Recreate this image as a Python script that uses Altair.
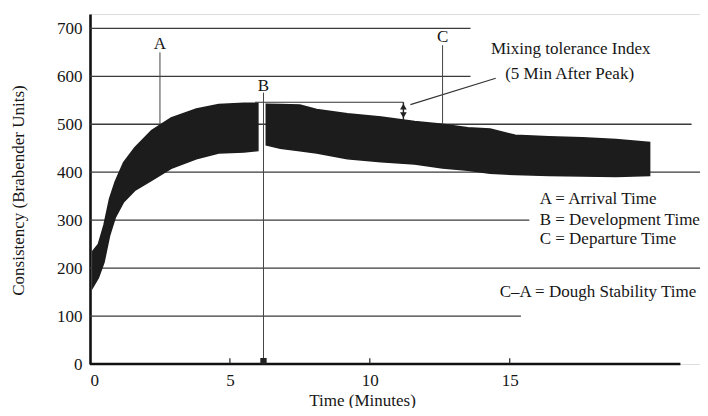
import altair as alt
import pandas as pd

FONT = "Liberation Serif"
INK = "#1c1c1c"
TXT = "#161616"

# ---- curve band (farinograph trace) ----
time_left = [0.1, 0.3, 0.5, 0.7, 0.9, 1.2, 1.6, 2.2, 2.9, 3.8, 4.6, 5.5, 6.0]
upper_left = [235, 250, 290, 345, 380, 420, 451, 487, 513, 532, 541, 544, 544]
lower_left = [160, 180, 212, 268, 305, 338, 362, 383, 408, 428, 440, 442, 445]

time_right = [6.3, 6.8, 7.5, 8.1, 9.2, 10.4, 11.6, 12.6, 13.5, 14.3, 15.2, 16.4, 17.6, 18.8, 20.0]
upper_right = [542, 541, 540, 531, 522, 515, 506, 500, 493, 490, 477, 474, 472, 468, 462]
lower_right = [457, 450, 445, 440, 428, 422, 417, 409, 404, 398, 395, 393, 392, 391, 393]

# ---- chart-paper grid lines (BU level, minute where the printed line stops) ----
grid_bu = [100, 200, 300, 400, 500, 600, 700]
grid_end_min = [15.4, 21.8, 15.7, 21.8, 21.5, 13.6, 13.6]
baseline_end_min = 21.1
minor_tick_min = [5, 10, 15]

# ---- markers ----
marker_labels = ["A", "B", "C"]
marker_time = [2.5, 6.2, 12.6]
marker_label_bu = [668, 580, 683]
marker_line_top = [650, 566, 665]
marker_line_bottom = [500, 0, 500]

peak_bu = 546
peak_start_min = 5.9
mti_time = 11.2
mti_band_top = 509

leader_time = [11.45, 14.5]
leader_bu = [541, 596]

mti_text = ["Mixing tolerance Index", "(5 Min After Peak)"]
mti_text_time = [17.18, 17.14]
mti_text_bu = [656, 604]

def_text = ["A = Arrival Time", "B = Development Time", "C = Departure Time",
            "C\u2013A = Dough Stability Time"]
def_time = [16.07, 16.07, 16.07, 14.64]
def_bu = [345, 301, 260, 150]

y_ticks = [0, 100, 200, 300, 400, 500, 600, 700]
x_ticks = [0, 5, 10, 15]

# ---- tables ----
band = pd.concat([
    pd.DataFrame({"t": time_left, "upper": upper_left, "lower": lower_left, "seg": "rise"}),
    pd.DataFrame({"t": time_right, "upper": upper_right, "lower": lower_right, "seg": "fall"}),
])
grid_df = pd.DataFrame({"bu": grid_bu, "end": grid_end_min, "start": 0.0})
base_df = pd.DataFrame({"bu": [0], "start": [0.0], "end": [baseline_end_min]})
tick_df = pd.DataFrame({"t": minor_tick_min, "b0": 0, "b1": 12})
marker_df = pd.DataFrame({"label": marker_labels, "t": marker_time, "lab": marker_label_bu,
                          "top": marker_line_top, "bot": marker_line_bottom})
peak_df = pd.DataFrame({"t0": [peak_start_min], "t1": [mti_time], "bu": [peak_bu]})
mti_df = pd.DataFrame({"t": [mti_time], "top": [peak_bu], "bot": [mti_band_top]})
mti_up_df = pd.DataFrame({"t": [mti_time], "bu": [peak_bu - 9]})
mti_dn_df = pd.DataFrame({"t": [mti_time], "bu": [mti_band_top + 10]})
leader_df = pd.DataFrame({"t": leader_time, "bu": leader_bu})
mti_text_df = pd.DataFrame({"txt": mti_text, "t": mti_text_time, "bu": mti_text_bu})
def_df = pd.DataFrame({"txt": def_text, "t": def_time, "bu": def_bu})
bmark_df = pd.DataFrame({"t": [6.2], "bu": [6]})

xs = alt.Scale(domain=[0, 21.8], nice=False, zero=False)
ys = alt.Scale(domain=[0, 730], nice=False)

x_axis = alt.Axis(values=x_ticks, domain=False, ticks=False, tickSize=0, grid=False,
                  labelFont=FONT, labelFontSize=17, labelColor=TXT, labelPadding=8,
                  title="Time (Minutes)", titleFont=FONT, titleFontSize=17,
                  titleFontWeight="normal", titleColor=TXT, titleX=272, titleY=36,
                  titleBaseline="middle")
y_axis = alt.Axis(values=y_ticks, domain=True, domainColor="#111", domainWidth=2.6,
                  ticks=False, tickSize=0, grid=False,
                  labelFont=FONT, labelFontSize=17, labelColor=TXT, labelPadding=8,
                  title="Consistency (Brabender Units)", titleFont=FONT, titleFontSize=17,
                  titleFontWeight="normal", titleColor=TXT, titleX=-72, titleY=176,
                  titleBaseline="middle")


def X(field):
    return alt.X(field, scale=xs, axis=x_axis)


def Y(field):
    return alt.Y(field, scale=ys, axis=y_axis)


grid = alt.Chart(grid_df).mark_rule(color="#3a3a3a", strokeWidth=1.3).encode(
    x=X("start:Q"), x2="end:Q", y=Y("bu:Q"))
baseline = alt.Chart(base_df).mark_rule(color="#111", strokeWidth=2.6).encode(
    x=X("start:Q"), x2="end:Q", y=Y("bu:Q"))
minor = alt.Chart(tick_df).mark_rule(color="#222", strokeWidth=1.2).encode(
    x=X("t:Q"), y=Y("b0:Q"), y2="b1:Q")
band_layer = alt.Chart(band).mark_area(color=INK, opacity=1, interpolate="linear",
                                       stroke=INK, strokeWidth=1.5).encode(
    x=X("t:Q"), y=Y("upper:Q"), y2="lower:Q", detail="seg:N")
peak = alt.Chart(peak_df).mark_rule(color="#333", strokeWidth=1.1).encode(
    x=X("t0:Q"), x2="t1:Q", y=Y("bu:Q"))
mti_rule = alt.Chart(mti_df).mark_rule(color="#222", strokeWidth=1.4).encode(
    x=X("t:Q"), y=Y("top:Q"), y2="bot:Q")
mti_up = alt.Chart(mti_up_df).mark_point(shape="triangle-up", filled=True, size=45,
                                         color="#222", opacity=1).encode(
    x=X("t:Q"), y=Y("bu:Q"))
mti_dn = alt.Chart(mti_dn_df).mark_point(shape="triangle-down", filled=True, size=45,
                                         color="#222", opacity=1).encode(
    x=X("t:Q"), y=Y("bu:Q"))
leader = alt.Chart(leader_df).mark_line(color="#333", strokeWidth=1.1).encode(
    x=X("t:Q"), y=Y("bu:Q"))
marker_lines = alt.Chart(marker_df).mark_rule(color="#444", strokeWidth=1.0).encode(
    x=X("t:Q"), y=Y("top:Q"), y2="bot:Q")
bmark = alt.Chart(bmark_df).mark_square(size=40, color="#222", opacity=1).encode(
    x=X("t:Q"), y=Y("bu:Q"))
marker_text = alt.Chart(marker_df).mark_text(font=FONT, fontSize=17, color=TXT,
                                             align="center", baseline="middle").encode(
    x=X("t:Q"), y=Y("lab:Q"), text="label:N")
mti_txt = alt.Chart(mti_text_df).mark_text(font=FONT, fontSize=17, color=TXT,
                                           align="center", baseline="middle").encode(
    x=X("t:Q"), y=Y("bu:Q"), text="txt:N")
def_txt = alt.Chart(def_df).mark_text(font=FONT, fontSize=17, color=TXT,
                                      align="left", baseline="middle").encode(
    x=X("t:Q"), y=Y("bu:Q"), text="txt:N")

chart = alt.layer(
    grid, baseline, minor, band_layer, peak, mti_rule, mti_up, mti_dn, leader,
    marker_lines, bmark, marker_text, mti_txt, def_txt,
).properties(
    width=610, height=350,
    padding={"left": 82, "top": 6, "right": 0, "bottom": 44},
    autosize=alt.AutoSizeParams(type="none"),
    background="white",
).configure_view(stroke=None).configure(font=FONT)

chart.save("out.html", embed_options={"renderer": "svg", "actions": False})
